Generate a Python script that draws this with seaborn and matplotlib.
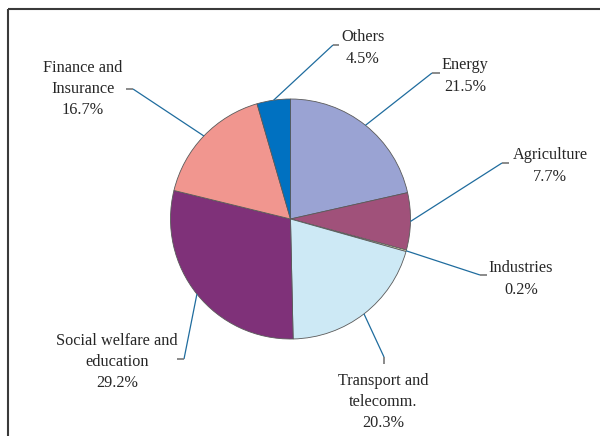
import matplotlib
matplotlib.use("Agg")
import matplotlib.pyplot as plt
import seaborn as sns
import numpy as np

# Sector shares (%)
sectors = ["Energy", "Agriculture", "Industries", "Transport and\ntelecomm.",
           "Social welfare and\neducation", "Finance and\nInsurance", "Others"]
shares = [21.5, 7.7, 0.2, 20.3, 29.2, 16.7, 4.5]
colors = ["#9AA3D3", "#A0517A", "#FFFFCC", "#CDE9F5", "#7F3179", "#F1968F", "#0071C1"]

# Label layout in pixel coordinates (x, y from top): text centre, leader elbow, tick end
label_pos = [(465, 76), (550, 166), (521, 279), (383, 402), (117, 362), (83, 89), (363, 48)]
elbows = [(432, 73), (502, 163), (480, 275), (384, 357), (184, 359), (133, 89), (333, 45)]
tick_ends = [(440, 73), (509, 163), (487, 275), (384, 364), (177, 359), (126, 89), (339, 45)]

sns.set_theme(style="white")
plt.rcParams["font.family"] = ["Liberation Serif", "DejaVu Serif"]

W, H = 600, 436
fig = plt.figure(figsize=(6, 4.36), dpi=100)
fig.patch.set_facecolor("white")
ax = fig.add_axes([0, 0, 1, 1])

cx, cy, r = 290.5, H - 219, 120
ax.pie(shares, colors=colors, startangle=90, counterclock=False,
       center=(cx, cy), radius=r, frame=True,
       wedgeprops=dict(edgecolor="#5a5a5a", linewidth=0.6))

ax.set_xlim(0, W)
ax.set_ylim(0, H)
ax.set_aspect("equal")
ax.axis("off")

total = sum(shares)
cum = np.cumsum([0] + shares[:-1])
line_col = "#1F6C9E"
tick_col = "#777777"
for name, v, c0, tp, el, te in zip(sectors, shares, cum, label_pos, elbows, tick_ends):
    mid = np.deg2rad(90 - 360 * (c0 + v / 2) / total)
    sx, sy = cx + r * np.cos(mid), cy + r * np.sin(mid)
    ax.plot([sx, el[0]], [sy, H - el[1]], color=line_col, lw=0.9, solid_capstyle="butt")
    ax.plot([el[0], te[0]], [H - el[1], H - te[1]], color=tick_col, lw=1.2, solid_capstyle="butt")
    ax.text(tp[0], H - tp[1], f"{name}\n{v:.1f}%", ha="center", va="center",
            fontsize=11.7, color="#262626", linespacing=1.42)

# Outer frame (top and left edges)
ax.plot([8, W], [H - 9, H - 9], color="#3a3a3a", lw=1.5, solid_capstyle="butt")
ax.plot([8, 8], [H - 9, 0], color="#3a3a3a", lw=1.5, solid_capstyle="butt")

fig.savefig("out.png", dpi=100)
